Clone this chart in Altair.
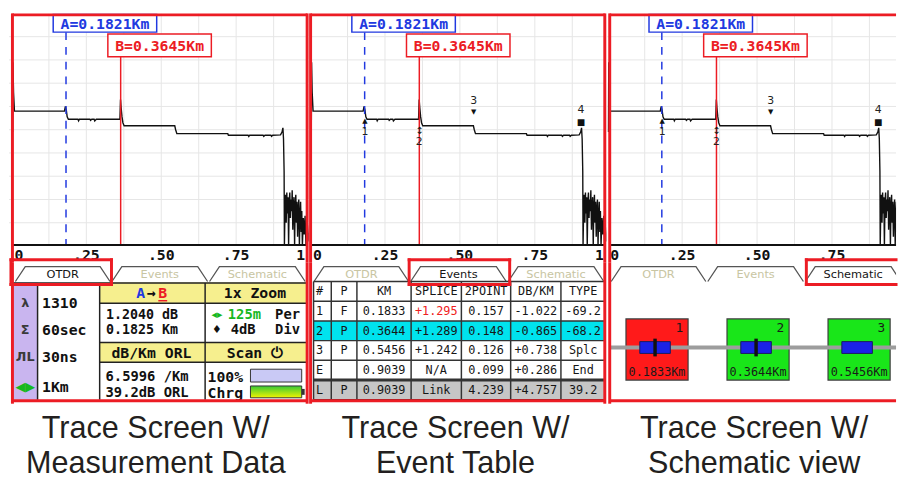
import altair as alt
import pandas as pd

# ------------------------------------------------------------------ data
trace_km = [0.004, 0.005, 0.007, 0.010, 0.177, 0.180, 0.183, 0.186, 0.190, 0.222, 0.224, 0.227,
            0.262, 0.264, 0.268, 0.276, 0.278, 0.283, 0.362, 0.364, 0.366, 0.369, 0.372, 0.376,
            0.545, 0.548, 0.552, 0.722, 0.724, 0.790, 0.792, 0.795, 0.840, 0.842, 0.846, 0.866,
            0.868, 0.872, 0.898, 0.903, 0.906, 0.908, 0.910,
            0.911, 0.913, 0.915, 0.917, 0.919, 0.921, 0.923, 0.925, 0.927, 0.929,
            0.931, 0.933, 0.935, 0.937, 0.939, 0.941, 0.943, 0.945, 0.947, 0.949,
            0.951, 0.953, 0.955, 0.957, 0.959, 0.961, 0.963, 0.965, 0.967, 0.969,
            0.971, 0.974, 0.977, 0.980, 0.983, 0.986, 0.990, 0.995, 1.000]
trace_db = [4.9, 7.9, 6.6, 5.8, 5.8, 6.0, 5.85, 5.55, 5.45, 5.45, 5.38, 5.45,
            5.45, 5.40, 5.45, 5.45, 5.38, 5.45, 5.45, 6.3, 5.95, 5.55, 5.3, 5.17,
            5.17, 5.0, 4.83, 4.83, 4.76, 4.76, 4.71, 4.76, 4.76, 4.71, 4.76, 4.76,
            4.71, 4.76, 4.78, 4.9, 5.08, 4.6, 3.2,
            0.0, 1.6, 2.2, 1.0, 2.3, 1.4, 2.1, 0.0, 1.9, 2.3,
            1.2, 2.0, 1.5, 2.4, 0.7, 1.8, 2.1, 0.0, 1.7, 2.2,
            1.0, 1.9, 0.4, 1.6, 2.0, 0.0, 1.3, 1.9, 0.6, 1.5,
            0.0, 1.2, 0.5, 1.3, 0.0, 0.8, 0.2, 0.9, 0.0]
grid_km = [0.125, 0.25, 0.375, 0.5, 0.625, 0.75, 0.875, 1.0]
grid_db = [1, 2, 3, 4, 5, 6, 7, 8, 9]
tick_km = [0.0, 0.25, 0.5, 0.75, 1.0]
tick_text = ["0", ".25", ".50", ".75", "1"]
cursor_name = ["A", "B"]
cursor_km = [0.1821, 0.3645]
marker_label = ["1", "2", "3", "4"]
marker_km = [0.1833, 0.3644, 0.5456, 0.9039]
tab_names = ["OTDR", "Events", "Schematic"]
setting_icons = ["λ", "Σ", "ЛL", "◀▶"]
setting_values = ["1310", "60sec", "30ns", "1Km"]
ab_loss_db = "1.2040"
ab_dist_km = "0.1825"
atten_db_km = "6.5996"
orl_db = "39.2"
zoom_factor = "1x"
h_div = "125m"
v_div = "4dB"
battery_pct = "100%"
table_header = ["#", "P", "KM", "SPLICE", "2POINT", "DB/KM", "TYPE"]
ev_id = ["1", "2", "3", "E", "L"]
ev_pf = ["F", "P", "P", "", "P"]
ev_km = ["0.1833", "0.3644", "0.5456", "0.9039", "0.9039"]
ev_splice = ["+1.295", "+1.289", "+1.242", "N/A", "Link"]
ev_2point = ["0.157", "0.148", "0.126", "0.099", "4.239"]
ev_dbkm = ["-1.022", "-0.865", "+0.738", "+0.286", "+4.757"]
ev_type = ["-69.2", "-68.2", "Splc", "End", "39.2"]
schem_id = ["1", "2", "3"]
schem_km = ["0.1833", "0.3644", "0.5456"]
schem_pf = ["F", "P", "P"]
schem_reflective = [True, True, False]
caption_line1 = ["Trace Screen W/", "Trace Screen W/", "Trace Screen W/"]
caption_line2 = ["Measurement Data", "Event Table", "Schematic view"]

# ------------------------------------------------------------------ style / layout
PXKM = 304.0
H1, H2, H3, H4 = 236, 17, 143, 79
MONO = "DejaVu Sans Mono"
SANS = "DejaVu Sans"
CAP_FONT = "Liberation Sans"
RED = "#ec1c24"
BLUE = "#2139e0"
GRID = "#e6e6e6"
TAB_FILL = "#f8f3b6"
YEL = "#f6ef8e"
LAV = "#c9b5ef"
CYAN = "#00e3ee"
GREY = "#c6c6c6"
GREEN_TXT = "#17b81f"
BOX_RED = "#ff1a1a"
BOX_GREEN = "#19e619"
CONN = "#1b22e6"

PANELS = [
    dict(W=304, o=2.5, lb=3.5, rb=302.5),
    dict(W=302, o=1.5, lb=2.0, rb=300.5),
    dict(W=293, o=0.0, lb=2.5, rb=None),
]
TAB_X = [(4, 100), (102, 199), (201, 298)]
HILITE_X = [(-0.5, 101.5), (100.5, 202.5), (202, 302)]
ONE = pd.DataFrame({"k": [0]})


def texts(rows, xs, ys, align="center", size=14, weight="bold", font=MONO, clip=False):
    df = pd.DataFrame(rows, columns=["t", "x", "y", "c"])
    return alt.Chart(df).mark_text(align=align, baseline="middle", font=font, fontSize=size,
                                   fontWeight=weight, clip=clip).encode(
        x=alt.X("x:Q", scale=xs, axis=None), y=alt.Y("y:Q", scale=ys, axis=None),
        text=alt.Text("t:N"), color=alt.Color("c:N", scale=None))


def rects(rows, xs, ys, stroke=None, sw=1.0):
    df = pd.DataFrame(rows, columns=["x", "x2", "y", "y2", "c"])
    kw = {}
    if stroke:
        kw.update(stroke=stroke, strokeWidth=sw)
    return alt.Chart(df).mark_rect(**kw).encode(
        x=alt.X("x:Q", scale=xs, axis=None), x2="x2:Q",
        y=alt.Y("y:Q", scale=ys, axis=None), y2="y2:Q",
        color=alt.Color("c:N", scale=None))


def segs(rows, xs, ys, color, sw, cap="butt"):
    df = pd.DataFrame(rows, columns=["x", "x2", "y", "y2"])
    return alt.Chart(df).mark_rule(color=color, strokeWidth=sw, strokeCap=cap).encode(
        x=alt.X("x:Q", scale=xs, axis=None), x2="x2:Q",
        y=alt.Y("y:Q", scale=ys, axis=None), y2="y2:Q")


def border_layers(p, H, top=None, bottom=None):
    W = p["W"]
    right = p["rb"] if p["rb"] is not None else W
    out = []
    xs_ = [p["lb"]] + ([p["rb"]] if p["rb"] is not None else [])
    for xp in xs_:
        out.append(alt.Chart(ONE).mark_rule(color=RED, strokeWidth=3).encode(
            x=alt.value(xp), y=alt.value(0), y2=alt.value(H)))
    for yp in [top, bottom]:
        if yp is not None:
            out.append(alt.Chart(ONE).mark_rule(color=RED, strokeWidth=3).encode(
                x=alt.value(p["lb"]), x2=alt.value(right), y=alt.value(yp)))
    return out


# ------------------------------------------------------------------ sections
def section_trace(p, with_markers):
    W, o = p["W"], p["o"]
    xs = alt.Scale(domain=[-o / PXKM, (W - o) / PXKM], nice=False, zero=False)
    ys = alt.Scale(domain=[0, 10], nice=False, zero=False)

    def X(f):
        return alt.X(f, type="quantitative", scale=xs, axis=None)

    def Y(f):
        return alt.Y(f, type="quantitative", scale=ys, axis=None)

    L = [
        alt.Chart(pd.DataFrame({"km": grid_km})).mark_rule(color=GRID, strokeWidth=1, clip=True).encode(x=X("km")),
        alt.Chart(pd.DataFrame({"db": grid_db})).mark_rule(color=GRID, strokeWidth=1, clip=True).encode(y=Y("db")),
    ]
    tr = pd.DataFrame({"km": trace_km, "db": trace_db, "i": list(range(len(trace_km)))})
    L.append(alt.Chart(tr).mark_line(color="#111", strokeWidth=1.4, clip=True).encode(
        x=X("km"), y=Y("db"), order="i:Q"))

    cur = pd.DataFrame({"km": cursor_km, "name": cursor_name})
    cur["label"] = [f"{n}={v:.4f}Km" for n, v in zip(cursor_name, cursor_km)]
    cur["x0"] = cur["km"] - 13 / PXKM
    cur["x1"] = cur["x0"] + 105 / PXKM
    cur["xc"] = (cur["x0"] + cur["x1"]) / 2
    specs = [(0, BLUE, [8, 7], 1, 19, 10.5), (1, RED, None, 21, 44, 33)]
    for i, col, dash, top, bot, ty in specs:
        d = cur.iloc[[i]]
        kw = dict(color=col, strokeWidth=1.5)
        if dash:
            kw["strokeDash"] = dash
        L.append(alt.Chart(d).mark_rule(**kw).encode(x=X("km"), y=alt.value(bot), y2=alt.value(H1)))
        L.append(alt.Chart(d).mark_rect(fill="white", stroke=col, strokeWidth=1.5).encode(
            x=X("x0"), x2="x1:Q", y=alt.value(top), y2=alt.value(bot)))
        L.append(alt.Chart(d).mark_text(font=MONO, fontWeight="bold", fontSize=15, color=col,
                                        baseline="middle").encode(
            x=X("xc"), y=alt.value(ty), text="label:N"))

    if with_markers:
        mspec = [("▲", 109, 7, 120), ("↕", 119, 10, 131), ("▼", 100, 7, 89), ("■", 110, 9, 98)]
        for i, (sym, sy, ssz, ny) in enumerate(mspec):
            d = pd.DataFrame({"km": [marker_km[i]], "n": [marker_label[i]], "s": [sym]})
            L.append(alt.Chart(d).mark_text(font=SANS, fontSize=ssz, color="#111", baseline="middle").encode(
                x=X("km"), y=alt.value(sy), text="s:N"))
            L.append(alt.Chart(d).mark_text(font=SANS, fontSize=11, color="#222", baseline="middle").encode(
                x=X("km"), y=alt.value(ny), text="n:N"))

    right = p["rb"] if p["rb"] is not None else W
    L.append(alt.Chart(ONE).mark_rule(color="#111", strokeWidth=2).encode(
        x=alt.value(p["lb"]), x2=alt.value(right), y=alt.value(H1 - 1)))
    L += border_layers(p, H1, top=1.5)
    return alt.layer(*L).properties(width=W, height=H1)


def section_ticks(p):
    W, o = p["W"], p["o"]
    xs = alt.Scale(domain=[-o / PXKM, (W - o) / PXKM], nice=False, zero=False)
    df = pd.DataFrame({"km": tick_km, "t": tick_text})
    visible_max = (W - o) / PXKM

    def lay(d, align, dx):
        return alt.Chart(d).mark_text(align=align, baseline="middle", font=MONO, fontWeight="bold",
                                      fontSize=15, dx=dx, clip=True, color="#111").encode(
            x=alt.X("km:Q", scale=xs, axis=None), y=alt.value(9), text="t:N")

    L = [lay(df.iloc[[0]], "left", 3), lay(df.iloc[1:4], "center", 0)]
    if visible_max > 0.97:
        L.append(lay(df.iloc[[4]], "right", -6))
    L += border_layers(p, H2)
    return alt.layer(*L).properties(width=W, height=H2)


def content_otdr(xs, ys, W, o):
    L = [rects([(1.5, 26.5, 20, 139, LAV), (89.5, 300, 20, 41, YEL), (89.5, 300, 81, 101, YEL)], xs, ys)]
    L.append(segs([(1.5, 300, 20.5, 20.5), (89.5, 300, 41, 41), (89.5, 300, 81, 81), (89.5, 300, 101, 101),
                   (26.5, 26.5, 20.5, 139), (89.5, 89.5, 20.5, 139), (196.5, 196.5, 20.5, 139)],
                  xs, ys, "#222", 1.5))
    rows_y = [41, 68, 96, 126]
    icon_col = ["#3a3a3a", "#3a3a3a", "#3a3a3a", GREEN_TXT]
    L.append(texts([(s, 14, y, c) for s, y, c in zip(setting_icons, rows_y, icon_col)], xs, ys, size=13, font=SANS))
    L.append(texts([(v, 31, y, "#111") for v, y in zip(setting_values, rows_y)], xs, ys, align="left", size=15))
    L.append(texts([(f"{ab_loss_db}  dB", 96, 53.5, "#111"), (f"{ab_dist_km}  Km", 96, 68.5, "#111")],
                   xs, ys, align="left", size=13.5))
    L.append(texts([(f"{atten_db_km} /Km", 95.5, 116, "#111"), (f"{orl_db}dB  ORL", 95.5, 132, "#111")],
                   xs, ys, align="left", size=14))
    L.append(texts([("dB/Km  ORL", 142, 92, "#111"), (f"{zoom_factor} Zoom", 247, 31, "#111"),
                    ("Scan ⏻", 247, 92, "#111"),
                    ("A", 131, 31, BLUE), ("→", 142, 31, "#111"), ("B", 153.5, 31, RED)],
                   xs, ys, size=15))
    L.append(segs([(149, 158, 38.5, 38.5)], xs, ys, RED, 1.5))
    L.append(texts([(h_div, 219.5, 53.5, GREEN_TXT), ("Per", 267.5, 53.5, "#111"),
                    (v_div, 222.5, 68.5, "#111"), ("Div", 267.5, 68.5, "#111")],
                   xs, ys, align="left", size=14))
    L.append(texts([(battery_pct, 199, 116, "#111"), ("Chrg", 199, 132, "#111")],
                   xs, ys, align="left", size=15))
    L.append(texts([("◂▸", 208.5, 53.5, GREEN_TXT), ("♦", 208.5, 68.5, "#111")], xs, ys, size=11, font=SANS))
    L.append(rects([(242.5, 294.5, 108, 121, "#c9c9f5")], xs, ys, stroke="#333", sw=1))
    grad = alt.LinearGradient(gradient="linear",
                              stops=[alt.GradientStop(color="#36c836", offset=0),
                                     alt.GradientStop(color="#f4f400", offset=1)],
                              x1=0, x2=0, y1=0, y2=1)
    gdf = pd.DataFrame({"x": [242.5], "x2": [294.5], "y": [125], "y2": [137]})
    L.append(alt.Chart(gdf).mark_rect(color=grad, stroke="#333", strokeWidth=1).encode(
        x=alt.X("x:Q", scale=xs, axis=None), x2="x2:Q", y=alt.Y("y:Q", scale=ys, axis=None), y2="y2:Q"))
    L.append(rects([(294.5, 297.5, 128, 134, "#333")], xs, ys))
    return L


def content_events(xs, ys, W, o):
    CE = [3.5, 21.5, 47.5, 102.5, 153.5, 203.5, 254.5, 299.5]
    RE = [19, 39, 59, 79, 99, 119, 139]
    bg = ["white", "white", CYAN, "white", "white", GREY]
    L = [rects([(CE[0], CE[-1], RE[r], RE[r + 1], bg[r]) for r in range(6)], xs, ys)]
    table = [table_header] + [list(r) for r in zip(ev_id, ev_pf, ev_km, ev_splice, ev_2point, ev_dbkm, ev_type)]
    left_rows, center_rows = [], []
    for r, row in enumerate(table):
        yc = (RE[r] + RE[r + 1]) / 2
        for c, val in enumerate(row):
            col = "#f02020" if (r == 1 and c == 3) else "#161616"
            if c == 0:
                left_rows.append((val, CE[0] + 2.5, yc, col))
            else:
                center_rows.append((val, (CE[c] + CE[c + 1]) / 2, yc, col))
    L.append(texts(left_rows, xs, ys, align="left", size=12, weight="normal"))
    L.append(texts(center_rows, xs, ys, size=12, weight="normal"))
    lines = [(x, x, RE[0], RE[-1]) for x in CE] + [(CE[0], CE[-1], y, y) for y in RE]
    L.append(segs(lines, xs, ys, "#333", 1.5))
    L.append(segs([(CE[0], CE[-1], RE[5], RE[5])], xs, ys, "#333", 3))
    return L


def content_schem(xs, ys, W, o):
    BL = [19, 121.5, 224]
    L = [rects([(b, b + 63, 57, 119, BOX_RED if pf == "F" else BOX_GREEN) for b, pf in zip(BL, schem_pf)],
               xs, ys, stroke="#3c3c3c", sw=1.2)]
    L.append(segs([(2.5, W - o, 86, 86)], xs, ys, "#9d9d9d", 4))
    L.append(rects([(b + 14, b + 45, 80, 92, CONN) for b in BL], xs, ys, stroke="#1c1c5c", sw=1))
    L.append(segs([(b + 29.5, b + 29.5, 77, 95) for b, r in zip(BL, schem_reflective) if r], xs, ys, "#111", 3.5))
    L.append(texts([(n, b + 58, 66, "#1a1a1a") for n, b in zip(schem_id, BL)], xs, ys, align="right",
                   size=13, weight="normal"))
    L.append(texts([(f"{k}Km", b + 31.5, 111, "#1a1a1a") for k, b in zip(schem_km, BL)], xs, ys,
                   size=12, weight="normal"))
    return L


CONTENT = [content_otdr, content_events, content_schem]


def section_panel(p, idx):
    W, o = p["W"], p["o"]
    xs = alt.Scale(domain=[-o, W - o], nice=False, zero=False)
    ys = alt.Scale(domain=[0, H3], reverse=True, nice=False, zero=False)
    rows = []
    for name, (x0, x1) in zip(tab_names, TAB_X):
        for k, (xx, yy) in enumerate([(x0, 19), (x0 + 10, 4), (x1 - 10, 4), (x1, 19)]):
            rows.append({"tab": name, "k": k, "x": xx, "y": yy, "yb": 19})
    tdf = pd.DataFrame(rows)
    X = alt.X("x:Q", scale=xs, axis=None)
    Y = alt.Y("y:Q", scale=ys, axis=None)
    L = [alt.Chart(tdf).mark_area(color=TAB_FILL, clip=True).encode(x=X, y=Y, y2="yb:Q", detail="tab:N", order="k:Q"),
         alt.Chart(tdf).mark_line(color="#555", strokeWidth=1.3, clip=True).encode(x=X, y=Y, detail="tab:N", order="k:Q")]
    L.append(texts([(n, (a + b) / 2, 12, "#151515" if i == idx else "#c8c5a2")
                    for i, (n, (a, b)) in enumerate(zip(tab_names, TAB_X))],
                   xs, ys, size=11.5, weight="normal", font=SANS, clip=True))
    L += CONTENT[idx](xs, ys, W, o)
    hx0, hx1 = HILITE_X[idx]
    hx1c = min(hx1, W - o)
    srows = [(hx0, hx1c, -3, -3), (hx0, hx1c, 22, 22), (hx0, hx0, -3, 22)]
    if hx1 <= W - o:
        srows.append((hx1, hx1, -3, 22))
    L.append(segs(srows, xs, ys, RED, 3, cap="square"))
    L += border_layers(p, H3, bottom=140)
    return alt.layer(*L).properties(width=W, height=H3)


def section_caption(p, idx):
    W = p["W"]
    xs = alt.Scale(domain=[0, W], nice=False, zero=False)
    ys = alt.Scale(domain=[0, H4], reverse=True, nice=False, zero=False)
    rows = [(caption_line1[idx], 149, 26, "#231f20"), (caption_line2[idx], 149, 61, "#231f20")]
    return texts(rows, xs, ys, size=31, weight="normal", font=CAP_FONT).properties(width=W, height=H4)


cols = []
for i, p in enumerate(PANELS):
    cols.append(alt.vconcat(section_trace(p, i > 0), section_ticks(p), section_panel(p, i),
                            section_caption(p, i), spacing=0, bounds="flush"))

chart = alt.hconcat(*cols, spacing=0).properties(
    padding=0, background="white").configure_view(stroke=None)

chart.save("out.html", embed_options={"renderer": "svg", "actions": False})
